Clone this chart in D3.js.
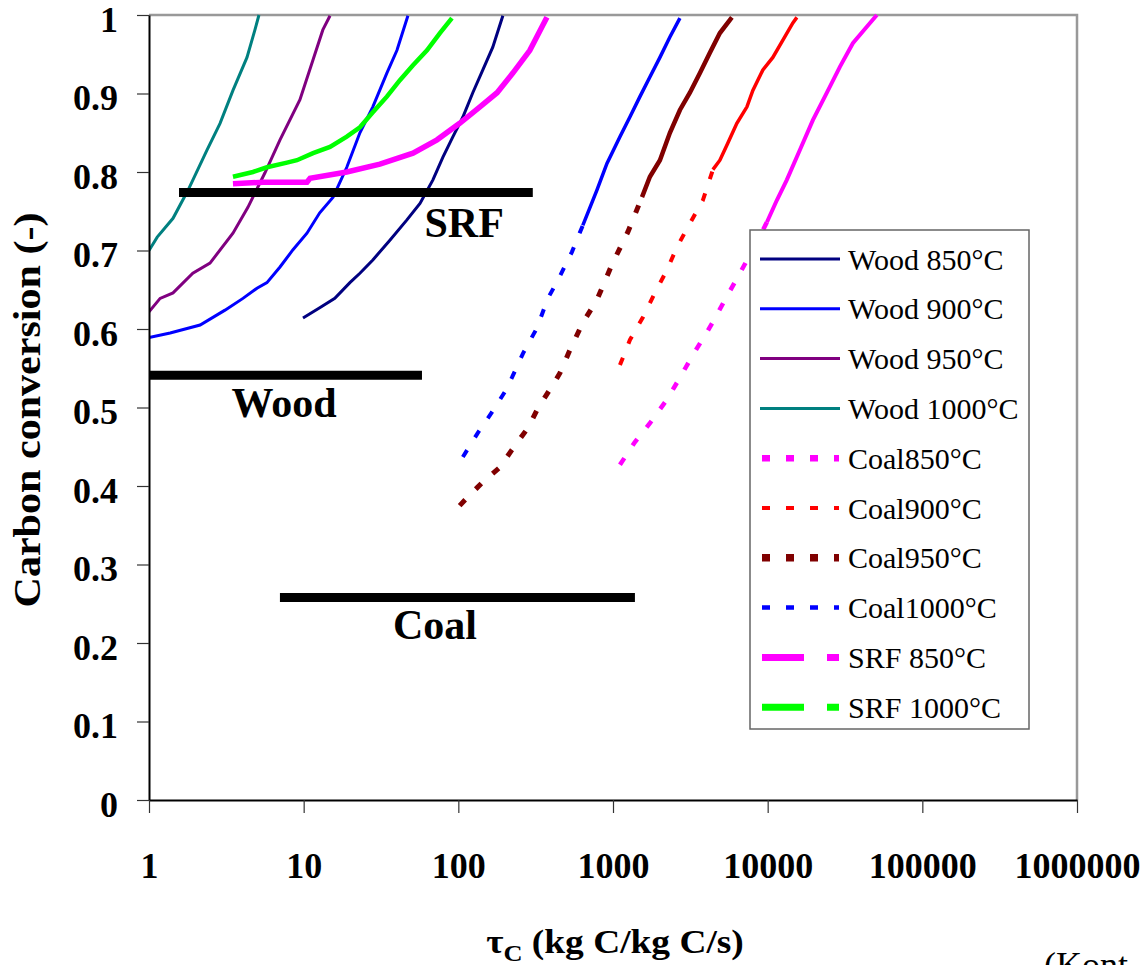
<!DOCTYPE html>
<html>
<head>
<meta charset="utf-8">
<script src="https://cdn.jsdelivr.net/npm/d3@7"></script>
<style>
  body { margin: 0; background: #fff; }
  svg { display: block; font-family: "Liberation Serif", "Times New Roman", serif; }
</style>
</head>
<body>
<div id="chart"></div>
<script>
// residence time tau_C (kg C/kg C/s) against carbon conversion (-)
const wood850 = [[9.9,0.614],[12.7,0.627],[15.9,0.639],[19.9,0.659],[23.1,0.671],[28.0,0.688],[36.1,0.713],[46.5,0.739],[56.5,0.760],[68.5,0.790],[79.5,0.819],[92.3,0.845],[107,0.870],[124,0.901],[144,0.930],[167,0.959],[194,0.999]];
const wood900 = [[1.0,0.589],[1.37,0.595],[2.14,0.605],[3.10,0.624],[4.05,0.639],[4.99,0.652],[5.79,0.659],[7.03,0.679],[8.53,0.701],[10.5,0.722],[12.7,0.748],[15.5,0.768],[19.0,0.806],[23.1,0.850],[28.0,0.883],[34.5,0.926],[40.1,0.955],[47.2,0.999]];
const wood950 = [[1.0,0.622],[1.18,0.639],[1.43,0.646],[1.92,0.671],[2.48,0.684],[3.49,0.722],[4.36,0.755],[5.62,0.799],[7.03,0.841],[9.46,0.892],[11.5,0.943],[13.3,0.981],[14.8,0.999]];
const wood1000 = [[1.0,0.700],[1.13,0.717],[1.43,0.741],[1.79,0.777],[2.37,0.828],[2.88,0.862],[3.49,0.904],[4.30,0.946],[4.84,0.981],[5.14,1.0]];

const coal850 = [[1109,0.427],[1386,0.456],[1732,0.480],[2230,0.510],[2708,0.538],[3283,0.567],[4046,0.596],[4425,0.609],[5290,0.637],[6610,0.671],[8020,0.701],[9885,0.736],[11460,0.764],[13300,0.790],[16150,0.828],[19600,0.866],[24150,0.901],[29300,0.934],[35550,0.964],[43750,0.985],[50800,1.0]];
const coal900 = [[1109,0.554],[1286,0.586],[1561,0.615],[1866,0.646],[2230,0.675],[2588,0.704],[3050,0.730],[3811,0.764],[4425,0.803],[4910,0.815],[5530,0.837],[6320,0.862],[7345,0.883],[8020,0.904],[9310,0.930],[10800,0.946],[12540,0.968],[14550,0.990],[15450,0.997]];
const coal950 = [[102,0.375],[114,0.385],[142,0.404],[186,0.424],[222,0.446],[282,0.474],[327,0.499],[409,0.529],[454,0.544],[526,0.573],[638,0.608],[787,0.637],[984,0.682],[1109,0.703],[1250,0.724],[1540,0.768],[1732,0.794],[2011,0.815],[2333,0.850],[2708,0.879],[3141,0.901],[3648,0.926],[4230,0.952],[4910,0.977],[5870,0.997]];
const coal1000 = [[107,0.437],[134,0.468],[165,0.494],[200,0.520],[222,0.538],[262,0.569],[322,0.601],[379,0.639],[440,0.662],[542,0.698],[638,0.732],[787,0.777],[914,0.811],[1109,0.845],[1286,0.870],[1493,0.896],[1732,0.921],[2011,0.946],[2333,0.972],[2708,0.996]];

const srf850 = [[3.49,0.785],[5.46,0.787],[10.5,0.787],[11.0,0.792],[19.0,0.800],[31.1,0.810],[50.9,0.824],[72.8,0.841],[102,0.862],[138,0.883],[178,0.901],[225,0.926],[290,0.955],[374,0.997]];
const srf1000 = [[3.49,0.794],[4.70,0.800],[5.79,0.806],[7.80,0.812],[9.05,0.815],[11.5,0.824],[14.8,0.832],[19.0,0.845],[23.1,0.857],[28.0,0.876],[34.5,0.896],[41.9,0.917],[50.9,0.936],[62.7,0.955],[76.0,0.977],[90.9,0.996]];

// fuel ranges marked as black bars: [from tau, to tau, conversion], label anchor [tau, conversion]
const rangeNames = ["SRF", "Wood", "Coal"];
const rangeBars = [[1.54, 303, 0.774], [1.0, 58.2, 0.541], [6.92, 1386, 0.258]];
const rangeLabels = [[109, 0.717], [7.46, 0.488], [70.6, 0.205]];

const xTicks = [1, 10, 100, 1000, 10000, 100000, 1000000];
const yTicks = [0, 0.1, 0.2, 0.3, 0.4, 0.5, 0.6, 0.7, 0.8, 0.9, 1];

const series = [
  { name: "Wood 850\u00B0C", data: wood850, color: "#000080", kind: "wood" },
  { name: "Wood 900\u00B0C", data: wood900, color: "#0000FF", kind: "wood" },
  { name: "Wood 950\u00B0C", data: wood950, color: "#800080", kind: "wood" },
  { name: "Wood 1000\u00B0C", data: wood1000, color: "#008080", kind: "wood" },
  { name: "Coal850\u00B0C", data: coal850, color: "#FF00FF", kind: "coal", w: 4.5, legendW: 6.5, solidFrom: 0.736 },
  { name: "Coal900\u00B0C", data: coal900, color: "#FF0000", kind: "coal", w: 4, legendW: 4, solidFrom: 0.80 },
  { name: "Coal950\u00B0C", data: coal950, color: "#800000", kind: "coal", w: 5, legendW: 7.5, solidFrom: 0.74 },
  { name: "Coal1000\u00B0C", data: coal1000, color: "#0000FF", kind: "coal", w: 4, legendW: 4.5, solidFrom: 0.73 },
  { name: "SRF 850\u00B0C", data: srf850, color: "#FF00FF", kind: "srf", w: 5.5 },
  { name: "SRF 1000\u00B0C", data: srf1000, color: "#00FF00", kind: "srf", w: 4.5 }
];

const margin = { top: 15, left: 149 };
const width = 928, height = 785;

const svg = d3.select("#chart").append("svg")
  .attr("width", 1147)
  .attr("height", 965);

const g = svg.append("g")
  .attr("transform", `translate(${margin.left},${margin.top})`);

const x = d3.scaleLog().domain([1, 1e6]).range([0, width]);
const y = d3.scaleLinear().domain([0, 1]).range([height, 0]);

// grey plot frame (top and right)
g.append("path")
  .attr("d", `M0,0H${width}V${height}`)
  .attr("fill", "none")
  .attr("stroke", "#999")
  .attr("stroke-width", 2.5);

g.append("clipPath").attr("id", "plotclip")
  .append("rect").attr("x", 0).attr("y", -2).attr("width", width).attr("height", height + 2);

const plot = g.append("g").attr("clip-path", "url(#plotclip)");

const line = d3.line()
  .x(d => x(d[0]))
  .y(d => y(d[1]));

series.forEach(s => {
  if (s.kind === "coal") {
    // lower part drawn dashed, upper part (dense points) looks continuous
    const i = s.data.findIndex(d => d[1] >= s.solidFrom);
    plot.append("path")
      .attr("d", line(s.data.slice(0, i + 1)))
      .attr("fill", "none")
      .attr("stroke", s.color)
      .attr("stroke-width", s.w)
      .attr("stroke-dasharray", "8,15");
    plot.append("path")
      .attr("d", line(s.data.slice(i)))
      .attr("fill", "none")
      .attr("stroke", s.color)
      .attr("stroke-width", s.w - 0.5);
  } else {
    plot.append("path")
      .attr("d", line(s.data))
      .attr("fill", "none")
      .attr("stroke", s.color)
      .attr("stroke-width", s.kind === "srf" ? s.w : 3);
  }
});

// fuel range bars
g.selectAll(".range")
  .data(rangeBars)
  .join("line")
  .attr("class", "range")
  .attr("x1", d => x(d[0]) + 1)
  .attr("x2", d => x(d[1]))
  .attr("y1", d => y(d[2]))
  .attr("y2", d => y(d[2]))
  .attr("stroke", "#000")
  .attr("stroke-width", 9);

g.selectAll(".rangeLabel")
  .data(rangeLabels)
  .join("text")
  .attr("class", "rangeLabel")
  .attr("x", d => x(d[0]))
  .attr("y", d => y(d[1]))
  .attr("text-anchor", "middle")
  .style("font-size", "42px")
  .style("font-weight", "bold")
  .text((d, i) => rangeNames[i]);

// axes
const yAxis = g.append("g")
  .call(d3.axisLeft(y).tickValues(yTicks).tickSize(12).tickSizeOuter(0).tickPadding(19).tickFormat(d => d));
const xAxis = g.append("g")
  .attr("transform", `translate(0,${height})`)
  .call(d3.axisBottom(x).tickValues(xTicks).tickSize(13).tickSizeOuter(0).tickFormat(d => d));

[yAxis, xAxis].forEach(a => {
  a.select(".domain").attr("stroke", "#000").attr("stroke-width", 2);
  a.selectAll(".tick line").attr("stroke", "#333").attr("stroke-width", 1.2);
  a.selectAll(".tick text")
    .attr("fill", "#000")
    .style("font-family", "'Liberation Serif', serif")
    .style("font-size", "36px")
    .style("font-weight", "bold");
});
yAxis.selectAll(".tick text").attr("dy", "0.45em");
xAxis.selectAll(".tick text").attr("y", 52).attr("dy", "0.71em");

// axis titles
svg.append("text")
  .attr("transform", "translate(40,410) rotate(-90)")
  .attr("text-anchor", "middle")
  .attr("textLength", 395)
  .attr("lengthAdjust", "spacingAndGlyphs")
  .style("font-size", "38px")
  .style("font-weight", "bold")
  .text("Carbon conversion (-)");

const xt = svg.append("text")
  .attr("transform", "translate(615,953) scale(1.1,1)")
  .attr("text-anchor", "middle")
  .style("font-size", "34px")
  .style("font-weight", "bold");
xt.append("tspan").text("\u03C4");
xt.append("tspan").attr("dy", 8).style("font-size", "24px").text("C");
xt.append("tspan").attr("dy", -8).text(" (kg C/kg C/s)");

// legend
const legend = svg.append("g").attr("transform", "translate(750,230)");
legend.append("rect")
  .attr("width", 279)
  .attr("height", 499)
  .attr("fill", "#fff")
  .attr("stroke", "#666")
  .attr("stroke-width", 1.5);

const items = legend.selectAll(".item")
  .data(series)
  .join("g")
  .attr("class", "item")
  .attr("transform", (d, i) => `translate(0,${29 + i * 49.8})`);

items.append("line")
  .attr("x1", d => d.kind === "wood" ? 10 : 12)
  .attr("x2", d => d.kind === "wood" ? 90 : 89)
  .attr("stroke", d => d.color)
  .attr("stroke-width", d => d.kind === "wood" ? 3 : d.kind === "coal" ? d.legendW : 7)
  .attr("stroke-dasharray", d => d.kind === "coal" ? "8,16" : d.kind === "srf" ? "42,23" : null);

items.append("text")
  .attr("x", 98)
  .attr("dy", "0.35em")
  .style("font-size", "30px")
  .text(d => d.name);

// source note, cut off by the lower edge as in the original
svg.append("text")
  .attr("x", 1044)
  .attr("y", 977)
  .style("font-size", "36px")
  .text("(Kont");
</script>
</body>
</html>
